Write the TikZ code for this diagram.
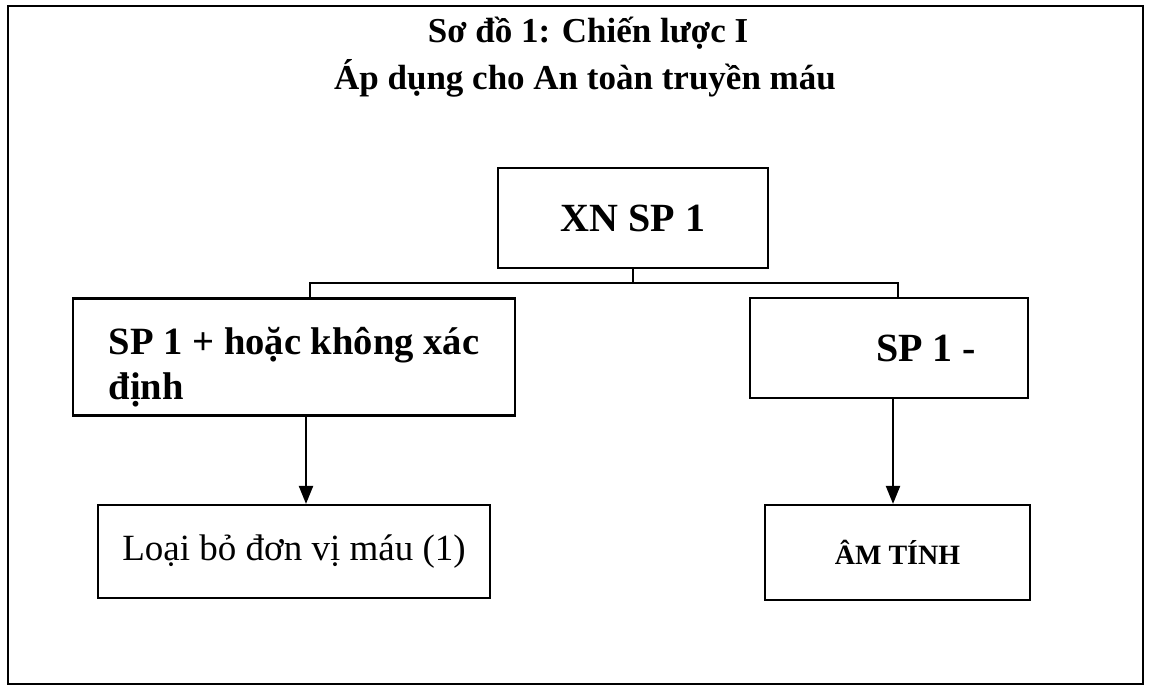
\documentclass[tikz,border=0pt]{standalone}
\usepackage{fontspec}
\setmainfont{Liberation Serif}
\usetikzlibrary{arrows.meta,positioning}

\begin{document}
\begin{tikzpicture}[x=0.5pt,y=-0.5pt]

\tikzstyle{box}=[draw=black,line width=1.1pt,inner sep=0pt,font=\bfseries\fontsize{20}{30}\selectfont]
\tikzstyle{line}=[line width=1.1pt]
\tikzstyle{arrow}=[line width=1.1pt,-{Triangle[width=7pt,length=9pt]}]

\useasboundingbox (0,0) rectangle (1149,689);

%frame
\draw[line width=1.2pt] (8,6) rectangle (1143,684);

%title
\node (t1) at (588,33) {\bfseries\fontsize{17.5}{21}\selectfont Sơ đồ 1: Chiến lược I};
\node (t2) at (585,78) {\bfseries\fontsize{17.5}{21}\selectfont Áp dụng cho An toàn truyền máu};

%test
\node[box,minimum width=135pt,minimum height=50pt] (xn) at (633,218) {XN SP 1};

%results
\node[box,minimum width=221pt,minimum height=58.5pt,align=left,
      font=\bfseries\fontsize{19.3}{22.5}\selectfont] (pos) at (294,357) {\rule{0pt}{24pt}SP 1 + hoặc không xác\\định};
\node[box,minimum width=139pt,minimum height=50pt] (neg) at (889,348) {\hspace*{37pt}SP 1 -};

%outcome
\node[box,minimum width=196pt,minimum height=46.5pt,
      font=\fontsize{18.5}{22}\selectfont] (rem) at (294,551.5) {Loại bỏ đơn vị máu (1)};
\node[box,minimum width=132.5pt,minimum height=47.5pt,
      font=\bfseries\fontsize{14}{17}\selectfont] (amt) at (897.5,552.5) {ÂM TÍNH};

%connectors
\coordinate (bar) at (633,283);
\draw[line] (xn.south) -- (bar);
\draw[line] ([xshift=8pt]pos.north) |- (bar) -| ([xshift=4.5pt]neg.north);
\draw[arrow] ([xshift=6pt]pos.south) -- ([xshift=6pt]pos.south |- rem.north);
\draw[arrow] ([xshift=2pt]neg.south) -- ([xshift=2pt]neg.south |- amt.north);

\end{tikzpicture}
\end{document}
